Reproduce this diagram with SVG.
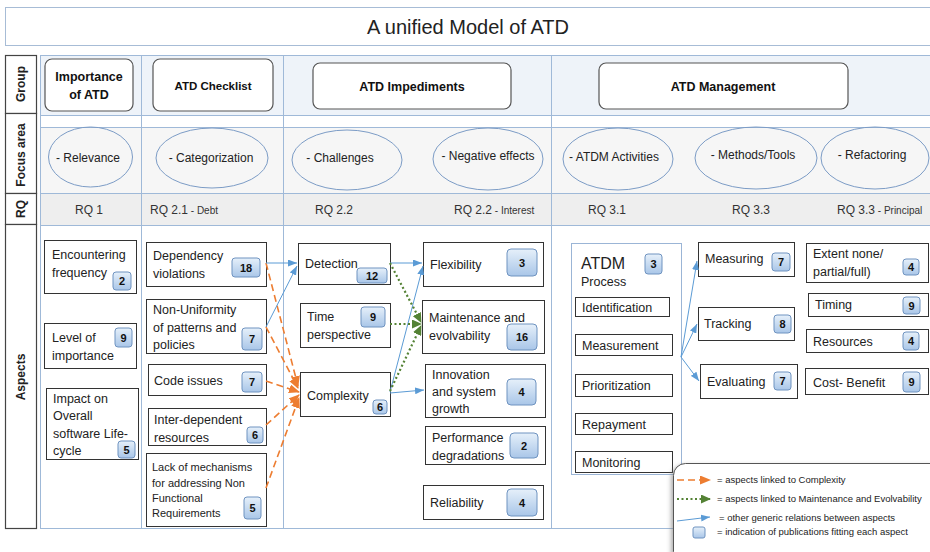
<svg xmlns="http://www.w3.org/2000/svg" width="930" height="552" viewBox="0 0 930 552">
<defs>
<linearGradient id="bg" x1="0" y1="0" x2="0" y2="1"><stop offset="0" stop-color="#e6f0fa"/><stop offset="1" stop-color="#a9c6e8"/></linearGradient>
<marker id="ab" markerUnits="userSpaceOnUse" markerWidth="9" markerHeight="7" refX="9" refY="3.5" orient="auto"><path d="M0,0 L9,3.5 L0,7 z" fill="#5b9bd5"/></marker>
<marker id="ao" markerUnits="userSpaceOnUse" markerWidth="11" markerHeight="9" refX="10" refY="4.5" orient="auto"><path d="M0,0 L11,4.5 L0,9 z" fill="#ed7d31"/></marker>
<marker id="ag" markerUnits="userSpaceOnUse" markerWidth="10" markerHeight="9" refX="9" refY="4.5" orient="auto"><path d="M0,0 L10,4.5 L0,9 z" fill="#548235"/></marker>
<filter id="sh" x="-10%" y="-10%" width="120%" height="130%"><feDropShadow dx="-2" dy="2" stdDeviation="2" flood-color="#777" flood-opacity="0.6"/></filter>
</defs>
<style>
text{font-family:"Liberation Sans",Arial,sans-serif;fill:#222}
.grid{stroke:#9fb9d8;stroke-width:1;fill:none}
.lab{font-weight:bold;font-size:12px;text-anchor:middle}
.lc{fill:#fff;stroke:#444;stroke-width:1.2}
.grp{fill:#fff;stroke:#555;stroke-width:1.2}
.gt{font-weight:bold;font-size:12.5px;text-anchor:middle;fill:#111}
.el{fill:none;stroke:#7c9cc6;stroke-width:1}
.ft{font-size:12px;text-anchor:middle}
.rq{font-size:12px;fill:#333}
.rs{font-size:10px}
.box{fill:#fff;stroke:#333;stroke-width:1}
.t{font-size:12.5px}
.ts{font-size:11px}
.bd{fill:url(#bg);stroke:#6f93c0;stroke-width:1}
.bn{font-weight:bold;font-size:11px;text-anchor:middle;fill:#111}
.cb{stroke:#5b9bd5;stroke-width:1;fill:none;marker-end:url(#ab)}
.co{stroke:#ed7d31;stroke-width:1.6;stroke-dasharray:7 4;fill:none;marker-end:url(#ao)}
.cg{stroke:#548235;stroke-width:2.2;stroke-dasharray:2 2.5;fill:none;marker-end:url(#ag)}
.lt{font-size:9.5px}
</style>
<rect width="930" height="552" fill="#fff"/>
<g id="title"><rect x="5.5" y="7.5" width="930" height="38" fill="#fff" stroke="#a7bcd6"/><text x="468" y="34" font-size="20" text-anchor="middle" fill="#111">A unified Model of ATD</text></g>
<g id="grid">
<rect x="40" y="55" width="890" height="60" fill="#eef3f9"/>
<rect x="40" y="127" width="890" height="66" fill="#f6f6f6"/>
<rect x="40" y="193" width="890" height="32" fill="#eeeeee"/>
<path class="grid" d="M40,55.5H930M40,115.5H930M40,127.5H930M40,193.5H930M40,225.5H930M40,528.5H930M40.5,55V529M141.5,55V529M283.5,55V529M551.5,55V529"/>
</g>
<g id="rowlabels">
<rect class="lc" x="5.5" y="55.5" width="31" height="58"/>
<rect class="lc" x="5.5" y="113.5" width="31" height="80"/>
<rect class="lc" x="5.5" y="193.5" width="31" height="31"/>
<rect class="lc" x="5.5" y="224.5" width="31" height="304"/>
<text class="lab" transform="translate(25,84) rotate(-90)">Group</text>
<text class="lab" transform="translate(25,155) rotate(-90)">Focus area</text>
<text class="lab" transform="translate(25,209) rotate(-90)">RQ</text>
<text class="lab" transform="translate(25,377) rotate(-90)">Aspects</text>
</g>
<g id="group-importance"><rect class="grp" x="45" y="59" width="88" height="52" rx="7"/><text class="gt" x="89" y="81" font-size="12">Importance</text><text class="gt" x="89" y="99" font-size="12">of ATD</text></g>
<g id="group-checklist"><rect class="grp" x="153" y="59" width="120" height="52" rx="7"/><text class="gt" x="213" y="90" style="font-size:11.5px">ATD Checklist</text></g>
<g id="group-impediments"><rect class="grp" x="313" y="63" width="198" height="46" rx="7"/><text class="gt" x="412" y="91">ATD Impediments</text></g>
<g id="group-management"><rect class="grp" x="599" y="63" width="249" height="46" rx="7"/><text class="gt" x="723" y="91">ATD Management</text></g>
<g id="focus-relevance"><ellipse class="el" cx="90.5" cy="157" rx="42" ry="30"/><text class="ft" x="88" y="162">- Relevance</text></g>
<g id="focus-categorization"><ellipse class="el" cx="212" cy="158" rx="56" ry="30"/><text class="ft" x="211" y="162">- Categorization</text></g>
<g id="focus-challenges"><ellipse class="el" cx="347" cy="160" rx="55" ry="30"/><text class="ft" x="340" y="162">- Challenges</text></g>
<g id="focus-negative"><ellipse class="el" cx="488" cy="159" rx="55" ry="31"/><text class="ft" x="488" y="160">- Negative effects</text></g>
<g id="focus-atdm"><ellipse class="el" cx="618" cy="159" rx="55" ry="31"/><text class="ft" x="614" y="161">- ATDM Activities</text></g>
<g id="focus-methods"><ellipse class="el" cx="756" cy="158" rx="61" ry="31"/><text class="ft" x="753" y="159">- Methods/Tools</text></g>
<g id="focus-refactoring"><ellipse class="el" cx="875" cy="158" rx="54" ry="31"/><text class="ft" x="872" y="159">- Refactoring</text></g>
<g id="rq">
<text class="rq" x="75" y="214">RQ 1</text>
<text class="rq" x="150" y="214">RQ 2.1<tspan class="rs"> - Debt</tspan></text>
<text class="rq" x="315" y="214">RQ 2.2</text>
<text class="rq" x="454" y="214">RQ 2.2<tspan class="rs"> - Interest</tspan></text>
<text class="rq" x="588" y="214">RQ 3.1</text>
<text class="rq" x="732" y="214">RQ 3.3</text>
<text class="rq" x="837" y="214">RQ 3.3<tspan class="rs"> - Principal</tspan></text>
</g>
<g id="encountering"><rect class="box" x="44.5" y="240.5" width="92" height="53"/><text class="t" x="52" y="259">Encountering</text><text class="t" x="52" y="277">frequency</text><rect class="bd" x="113" y="272" width="18" height="18" rx="3"/><text class="bn" x="122" y="285">2</text></g>
<g id="level"><rect class="box" x="44.5" y="323.5" width="92" height="45"/><text class="t" x="52" y="342">Level of</text><text class="t" x="52" y="360">importance</text><rect class="bd" x="115" y="328" width="17" height="19" rx="3"/><text class="bn" x="123.5" y="341.5">9</text></g>
<g id="impact"><rect class="box" x="46.5" y="388.5" width="92" height="71"/><text class="t" x="53" y="403">Impact on</text><text class="t" x="53" y="420">Overall</text><text class="t" x="53" y="438">software Life-</text><text class="t" x="53" y="455">cycle</text><rect class="bd" x="118" y="441" width="17" height="17" rx="3"/><text class="bn" x="126.5" y="453.5">5</text></g>
<g id="dependency"><rect class="box" x="146.5" y="242.5" width="120" height="44"/><text class="t" x="153" y="260">Dependency</text><text class="t" x="153" y="278">violations</text><rect class="bd" x="232" y="258" width="28" height="19" rx="3"/><text class="bn" x="246" y="271.5">18</text></g>
<g id="nonuniformity"><rect class="box" x="146.5" y="299.5" width="120" height="54"/><text class="t" x="153" y="314">Non-Uniformity</text><text class="t" x="153" y="332">of patterns and</text><text class="t" x="153" y="349">policies</text><rect class="bd" x="242" y="328" width="20" height="22" rx="3"/><text class="bn" x="252" y="343">7</text></g>
<g id="codeissues"><rect class="box" x="148.5" y="364.5" width="118" height="31"/><text class="t" x="154" y="385">Code issues</text><rect class="bd" x="242" y="372" width="20" height="20" rx="3"/><text class="bn" x="252" y="386">7</text></g>
<g id="interdependent"><rect class="box" x="148.5" y="408.5" width="118" height="37"/><text class="t" x="154" y="424">Inter-dependent</text><text class="t" x="154" y="442">resources</text><rect class="bd" x="247" y="427" width="16" height="16" rx="3"/><text class="bn" x="255" y="439">6</text></g>
<g id="lack"><rect class="box" x="146.5" y="453.5" width="120" height="73"/><text class="ts" x="152" y="471">Lack of mechanisms</text><text class="ts" x="152" y="487">for addressing Non</text><text class="ts" x="152" y="502">Functional</text><text class="ts" x="152" y="517">Requirements</text><rect class="bd" x="244" y="497" width="17" height="22" rx="3"/><text class="bn" x="252.5" y="512">5</text></g>
<g id="detection"><rect class="box" x="298.5" y="243.5" width="92" height="41"/><text class="t" x="305" y="268">Detection</text><rect class="bd" x="357" y="268" width="30" height="15" rx="3"/><text class="bn" x="372" y="279.5">12</text></g>
<g id="time"><rect class="box" x="300.5" y="303.5" width="90" height="44"/><text class="t" x="307" y="321">Time</text><text class="t" x="307" y="339">perspective</text><rect class="bd" x="361" y="307" width="24" height="20" rx="3"/><text class="bn" x="373" y="321">9</text></g>
<g id="complexity"><rect class="box" x="300.5" y="372.5" width="90" height="44"/><text class="t" x="307" y="400">Complexity</text><rect class="bd" x="373" y="400" width="14" height="14" rx="3"/><text class="bn" x="380" y="411">6</text></g>
<g id="flexibility"><rect class="box" x="423.5" y="242.5" width="120" height="44"/><text class="t" x="430" y="269">Flexibility</text><rect class="bd" x="507" y="249" width="30" height="27" rx="4"/><text class="bn" x="522" y="266.5">3</text></g>
<g id="maintenance"><rect class="box" x="422.5" y="300.5" width="122" height="53"/><text class="t" x="429" y="322">Maintenance and</text><text class="t" x="429" y="340">evolvability</text><rect class="bd" x="507" y="324" width="30" height="26" rx="4"/><text class="bn" x="522" y="341">16</text></g>
<g id="innovation"><rect class="box" x="425.5" y="364.5" width="120" height="53"/><text class="t" x="432" y="379">Innovation</text><text class="t" x="432" y="396">and system</text><text class="t" x="432" y="413">growth</text><rect class="bd" x="507" y="379" width="29" height="26" rx="4"/><text class="bn" x="521.5" y="396">4</text></g>
<g id="performance"><rect class="box" x="425.5" y="426.5" width="120" height="38"/><text class="t" x="432" y="442">Performance</text><text class="t" x="432" y="460">degradations</text><rect class="bd" x="510" y="433" width="28" height="25" rx="4"/><text class="bn" x="524" y="449.5">2</text></g>
<g id="reliability"><rect class="box" x="423.5" y="485.5" width="120" height="34"/><text class="t" x="430" y="507">Reliability</text><rect class="bd" x="507" y="489" width="30" height="27" rx="4"/><text class="bn" x="522" y="506.5">4</text></g>
<g id="atdm-process"><rect x="571.5" y="243.5" width="110" height="231" fill="#fff" stroke="#9bb5d6"/><text x="581" y="269" font-size="16">ATDM</text><text x="581" y="286" font-size="12.5" fill="#333">Process</text><rect class="bd" x="645" y="254" width="17" height="20" rx="3"/><text class="bn" x="653.5" y="268">3</text>
<rect class="box" x="575.5" y="297.5" width="94" height="19"/><text class="t" x="582" y="312">Identification</text>
<rect class="box" x="575.5" y="334.5" width="97" height="21"/><text class="t" x="582" y="350">Measurement</text>
<rect class="box" x="575.5" y="374.5" width="97" height="22"/><text class="t" x="582" y="390">Prioritization</text>
<rect class="box" x="575.5" y="413.5" width="97" height="21"/><text class="t" x="582" y="429">Repayment</text>
<rect class="box" x="575.5" y="451.5" width="97" height="21"/><text class="t" x="582" y="467">Monitoring</text></g>
<g id="measuring"><rect class="box" x="698.5" y="242.5" width="96" height="34"/><text class="t" x="705" y="263">Measuring</text><rect class="bd" x="772" y="253" width="18" height="18" rx="3"/><text class="bn" x="781" y="266">7</text></g>
<g id="tracking"><rect class="box" x="698.5" y="307.5" width="96" height="33"/><text class="t" x="704" y="328">Tracking</text><rect class="bd" x="774" y="315" width="17" height="18" rx="3"/><text class="bn" x="782.5" y="328">8</text></g>
<g id="evaluating"><rect class="box" x="700.5" y="364.5" width="97" height="34"/><text class="t" x="707" y="386">Evaluating</text><rect class="bd" x="774" y="372" width="17" height="18" rx="3"/><text class="bn" x="782.5" y="385">7</text></g>
<g id="extent"><rect class="box" x="806.5" y="243.5" width="122" height="39"/><text class="t" x="813" y="258">Extent none/</text><text class="t" x="813" y="276">partial/full)</text><rect class="bd" x="903" y="259" width="16" height="16" rx="3"/><text class="bn" x="911" y="271">4</text></g>
<g id="timing"><rect class="box" x="808.5" y="293.5" width="120" height="23"/><text class="t" x="815" y="309">Timing</text><rect class="bd" x="903" y="297" width="17" height="17" rx="3"/><text class="bn" x="911.5" y="309.5">9</text></g>
<g id="resources"><rect class="box" x="806.5" y="329.5" width="122" height="23"/><text class="t" x="813" y="346">Resources</text><rect class="bd" x="903" y="332" width="16" height="18" rx="3"/><text class="bn" x="911" y="345">4</text></g>
<g id="costbenefit"><rect class="box" x="805.5" y="368.5" width="123" height="26"/><text class="t" x="813" y="387">Cost- Benefit</text><rect class="bd" x="903" y="372" width="17" height="20" rx="3"/><text class="bn" x="911.5" y="386">9</text></g>
<g id="connectors">
<path class="co" d="M266,263 L298,386"/>
<path class="co" d="M266,327 L298,388"/>
<path class="co" d="M266,381 L299,392"/>
<path class="co" d="M266,425 L299,395"/>
<path class="co" d="M266,488 L299,398"/>
<path class="cb" d="M266,263 L297,263"/>
<path class="cb" d="M266,327 L297,266"/>
<path class="cb" d="M390,263 L422,263"/>
<path class="cb" d="M390,392 L423,266"/>
<path class="cb" d="M390,393 L424,390"/>
<path class="cb" d="M681,357 L697,261"/>
<path class="cb" d="M681,357 L697,324"/>
<path class="cb" d="M681,357 L699,381"/>
<path class="cg" d="M390,263 L421,322"/>
<path class="cg" d="M390,324 L421,324"/>
<path class="cg" d="M390,391 L421,326"/>
</g>
<g id="legend">
<rect x="673.5" y="463.5" width="270" height="100" rx="12" fill="#fff" stroke="#555" filter="url(#sh)"/>
<path class="co" d="M677,480 L710,480" stroke-dasharray="8 5"/>
<text class="lt" x="717" y="483">= aspects linked to Complexity</text>
<path class="cg" d="M677,499 L710,499" stroke-width="2"/>
<text class="lt" x="717" y="502">= aspects linked to Maintenance and Evolvability</text>
<path class="cb" d="M677,521 L710,517"/>
<text class="lt" x="719" y="521">= other generic relations between aspects</text>
<rect class="bd" x="693" y="527" width="12" height="11" rx="2"/>
<text class="lt" x="717" y="535">= indication of publications fitting each aspect</text>
</g>
</svg>
